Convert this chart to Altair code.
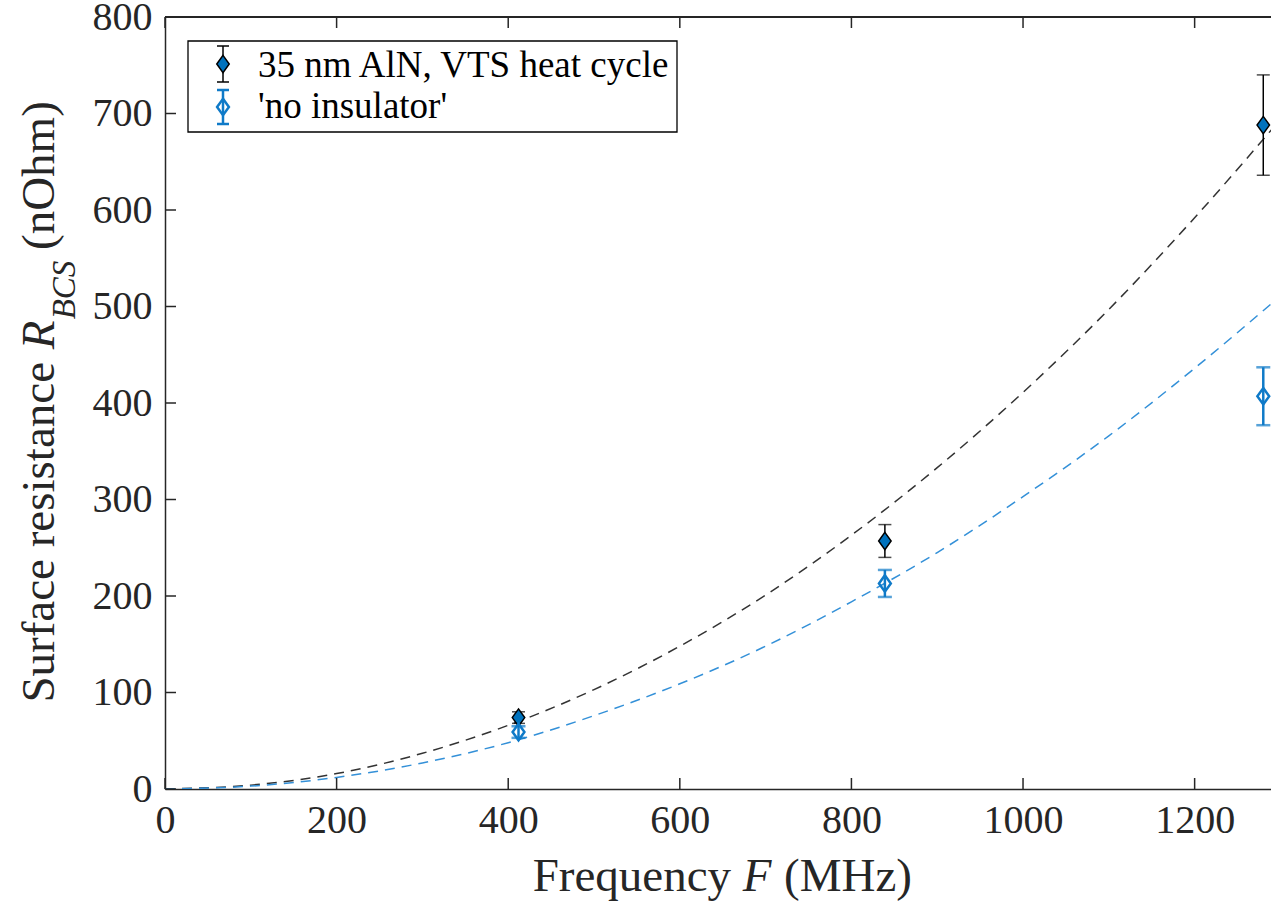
import altair as alt
import pandas as pd

# Measured surface resistance at the three resonance frequencies
freq = [412, 839, 1280]
r_aln = [74, 257, 688]
err_aln = [6, 17, 52]
r_noins = [59, 213, 407]
err_noins = [6, 14, 30]

# Fitted BCS curves (nOhm) sampled every 100 MHz
fit_freq = [0, 100, 200, 300, 400, 500, 600, 700, 800, 900, 1000, 1100, 1200, 1300]
fit_aln = [0, 4, 16, 37, 66, 103, 148, 201, 263, 333, 411, 497, 592, 694]
fit_noins = [0, 3, 12, 27, 48, 76, 109, 148, 194, 245, 303, 366, 436, 511]

x_ticks = [0, 200, 400, 600, 800, 1000, 1200]
y_ticks = [0, 100, 200, 300, 400, 500, 600, 700, 800]

W, H = 1106, 772
FONT = "Liberation Serif"
AXIS_COLOR = "#262626"
BLUE = "#0F7AC8"
BLUE_LINE = "#3390D8"
MARKER_BLUE = "#0072BD"
DIAMOND = "M0,-1L0.72,0L0,1L-0.72,0Z"

xs = alt.Scale(domain=[0, 1289], nice=False, zero=False)
ys = alt.Scale(domain=[0, 800], nice=False)

x_axis = alt.Axis(values=x_ticks, format="d", title=None, labelPadding=11)
y_axis = alt.Axis(values=y_ticks, format="d", title=None, labelPadding=13)

fit_df = pd.DataFrame({"F": fit_freq * 2,
                       "R": fit_aln + fit_noins,
                       "series": ["aln"] * len(fit_freq) + ["noins"] * len(fit_freq)})

fits = alt.Chart(fit_df).mark_line(strokeDash=[10, 7], strokeWidth=1.5, clip=True,
                                   interpolate="monotone").encode(
    x=alt.X("F:Q", scale=xs, axis=x_axis),
    y=alt.Y("R:Q", scale=ys, axis=y_axis),
    color=alt.Color("series:N", scale=alt.Scale(domain=["aln", "noins"],
                                                range=["#333333", BLUE_LINE]), legend=None),
    detail="series:N",
)


def meas_df(r, e):
    return pd.DataFrame({"F": freq, "R": r,
                         "lo": [a - b for a, b in zip(r, e)],
                         "hi": [a + b for a, b in zip(r, e)]})


aln = meas_df(r_aln, err_aln)
noins = meas_df(r_noins, err_noins)


def qx(field="F"):
    return alt.X(f"{field}:Q", scale=xs, axis=x_axis)


def qy(field):
    return alt.Y(f"{field}:Q", scale=ys, axis=y_axis)


def errorbars(df, color, width, cap):
    bar = alt.Chart(df).mark_rule(color=color, strokeWidth=width).encode(
        x=qx(), y=qy("lo"), y2="hi:Q")
    top = alt.Chart(df).mark_tick(color=color, orient="horizontal", size=cap,
                                  thickness=width).encode(x=qx(), y=qy("hi"))
    bot = alt.Chart(df).mark_tick(color=color, orient="horizontal", size=cap,
                                  thickness=width).encode(x=qx(), y=qy("lo"))
    return bar + top + bot


aln_pts = alt.Chart(aln).mark_point(shape=DIAMOND, size=300, filled=True, fill=MARKER_BLUE,
                                    fillOpacity=1, stroke="black", strokeWidth=1.5,
                                    opacity=1).encode(x=qx(), y=qy("R"))
noins_pts = alt.Chart(noins).mark_point(shape=DIAMOND, size=270, filled=False,
                                        stroke=BLUE, strokeWidth=2.5,
                                        opacity=1).encode(x=qx(), y=qy("R"))

# Inward tick marks on the bottom, top and left sides, plus the top frame line
xt = pd.DataFrame({"v": x_ticks})
yt = pd.DataFrame({"v": y_ticks})
tick_style = dict(color=AXIS_COLOR, strokeWidth=1.5)
bottom_ticks = alt.Chart(xt).mark_rule(**tick_style).encode(
    x=qx("v"), y=alt.value(H), y2=alt.value(H - 11))
top_ticks = alt.Chart(xt).mark_rule(**tick_style).encode(
    x=qx("v"), y=alt.value(0), y2=alt.value(11))
left_ticks = alt.Chart(yt).mark_rule(**tick_style).encode(
    y=qy("v"), x=alt.value(0), x2=alt.value(11))
top_line = alt.Chart(xt).mark_rule(**tick_style).encode(
    x=alt.value(0), x2=alt.value(W), y=alt.value(0))

# Legend
one = pd.DataFrame({"k": [0]})
legend_box = alt.Chart(one).mark_rect(fill="white", stroke="black", strokeWidth=1.3).encode(
    x=alt.value(23), x2=alt.value(512), y=alt.value(24), y2=alt.value(115))


def legend_entry(cy, y_top, y_bot, color, width, filled, label, ty):
    layers = [
        alt.Chart(one).mark_rule(color=color, strokeWidth=width).encode(
            x=alt.value(58), y=alt.value(y_top), y2=alt.value(y_bot)),
        alt.Chart(one).mark_rule(color=color, strokeWidth=width).encode(
            x=alt.value(52), x2=alt.value(64), y=alt.value(y_top)),
        alt.Chart(one).mark_rule(color=color, strokeWidth=width).encode(
            x=alt.value(52), x2=alt.value(64), y=alt.value(y_bot)),
    ]
    if filled:
        layers.append(alt.Chart(one).mark_point(shape=DIAMOND, size=300, filled=True,
                                                fill=MARKER_BLUE, fillOpacity=1, stroke="black",
                                                strokeWidth=1.5, opacity=1).encode(
            x=alt.value(58), y=alt.value(cy)))
    else:
        layers.append(alt.Chart(one).mark_point(shape=DIAMOND, size=270, filled=False,
                                                stroke=color, strokeWidth=2.5,
                                                opacity=1).encode(
            x=alt.value(58), y=alt.value(cy)))
    layers.append(alt.Chart(one).mark_text(text=label, font=FONT, fontSize=37, color="black",
                                           align="left", baseline="alphabetic").encode(
        x=alt.value(93), y=alt.value(ty)))
    return alt.layer(*layers)


leg1 = legend_entry(47, 29, 65, "black", 1.5, True, "35 nm AlN, VTS heat cycle", 60)
leg2 = legend_entry(90, 73, 107, BLUE, 2.5, False, "'no insulator'", 101)

# Axis titles built from pieces so the symbols can be set in italics
TITLE_SIZE = 47


def txt(text, x, y, align, italic=False, size=TITLE_SIZE, angle=0):
    kw = dict(text=text, font=FONT, fontSize=size, color=AXIS_COLOR, align=align,
              baseline="alphabetic")
    if italic:
        kw["fontStyle"] = "italic"
    if angle:
        kw["angle"] = angle
    return alt.Chart(one).mark_text(**kw).encode(x=alt.value(x), y=alt.value(y))


x_title = alt.layer(
    txt("Frequency", 566, 874, "right"),
    txt("F", 592, 874, "center", italic=True),
    txt("(MHz)", 619, 874, "left"),
)
y_title = alt.layer(
    txt("Surface resistance", -111, 345, "right", angle=270),
    txt("R", -111, 318, "center", italic=True, angle=270),
    txt("BCS", -90, 273, "center", italic=True, size=33, angle=270),
    txt("(nOhm)", -111, 233, "left", angle=270),
)

chart = alt.layer(
    fits,
    errorbars(aln, "black", 1.5, 13), aln_pts,
    errorbars(noins, BLUE, 2.5, 14), noins_pts,
    bottom_ticks, top_ticks, left_ticks, top_line,
    legend_box, leg1, leg2,
    x_title, y_title,
).properties(
    width=W, height=H,
    autosize=alt.AutoSizeParams(type="none"),
    padding={"left": 165, "top": 17, "right": 0, "bottom": 118},
    background="white",
).configure_view(
    stroke=None
).configure_axis(
    grid=False, ticks=False, tickSize=0, format="d",
    labelFont=FONT, labelFontSize=40, labelColor=AXIS_COLOR,
    domainColor=AXIS_COLOR, domainWidth=1.5, labelFlush=False, labelOverlap=False,
)

chart.save("out.html", embed_options={"renderer": "svg", "actions": False})
